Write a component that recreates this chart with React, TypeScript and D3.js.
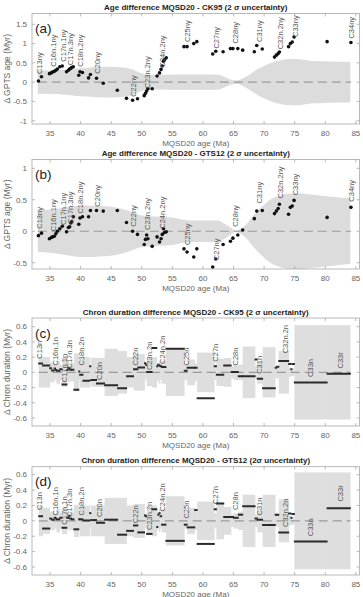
import * as d3 from 'd3'

const W = 363, H = 597

// MQSD20 ages of dated reversals (Ma) and age differences (Myr)
const reversalAge = [33.1, 33.6, 34.9, 35.2, 35.4, 35.7, 35.95, 36.2, 36.6, 37.0, 37.7, 38.0, 38.2, 38.4, 38.55, 38.8, 39.7, 39.9, 40.3, 41.3, 41.6, 42.6, 43.7, 46.0, 47.5, 48.5, 49.3, 50.4, 50.6, 50.8, 51.0, 51.7, 52.5, 52.9, 53.15, 53.35, 53.55, 53.7, 54.0, 56.9, 57.4, 58.5, 59.0, 61.6, 62.1, 63.3, 64.5, 64.9, 65.7, 66.5, 68.4, 68.8, 69.7, 71.7, 72.0, 72.3, 72.5, 74.0, 74.3, 74.6, 74.9, 80.3, 84.2]
const diffCK95 = [0.03, 0.14, 0.22, 0.24, 0.26, 0.28, 0.31, 0.34, 0.40, 0.42, 0.27, 0.31, 0.34, 0.36, 0.38, 0.40, 0.18, 0.27, 0.25, 0.11, 0.20, 0.10, -0.03, -0.21, -0.42, -0.47, -0.43, -0.35, -0.29, -0.23, -0.17, -0.17, 0.16, 0.24, 0.33, 0.42, 0.54, 0.58, 0.63, 0.92, 0.92, 1.00, 1.05, 0.73, 0.80, 0.79, 0.87, 0.87, 0.87, 0.83, 0.79, 0.95, 0.86, 0.65, 0.70, 0.74, 0.78, 0.92, 1.00, 1.04, 1.17, 1.05, 1.03]
const diffGTS12 = [-0.07, -0.03, -0.12, -0.10, -0.09, -0.08, -0.04, 0.00, 0.04, 0.08, -0.01, 0.06, 0.07, 0.13, 0.15, 0.23, 0.11, 0.21, 0.23, 0.23, 0.33, 0.33, 0.32, 0.33, 0.14, 0.00, -0.05, -0.21, -0.13, -0.06, -0.12, -0.24, -0.09, -0.17, -0.12, -0.05, 0.04, -0.02, -0.01, -0.28, -0.33, -0.41, -0.28, -0.57, -0.44, -0.21, -0.16, -0.11, -0.06, 0.02, 0.20, 0.32, 0.33, 0.28, 0.32, 0.36, 0.43, 0.27, 0.38, 0.40, 0.49, 0.22, 0.38]

// 2 sigma envelope (half width, Myr)
const envAge = [33.0, 35, 37, 39, 41, 43, 45, 47, 48.5, 50, 51.5, 53, 55, 57, 59, 61, 62.5, 63.5, 64.5, 65.3, 66, 67, 68, 69, 70, 71, 72, 73, 74.5, 76, 78, 80, 82, 84.1]
const envCK95 = [0.31, 0.3, 0.32, 0.35, 0.37, 0.39, 0.4, 0.38, 0.33, 0.23, 0.19, 0.19, 0.2, 0.2, 0.2, 0.2, 0.19, 0.14, 0.07, 0.04, 0.06, 0.14, 0.24, 0.34, 0.42, 0.49, 0.54, 0.58, 0.6, 0.59, 0.55, 0.54, 0.53, 0.53]
const envGTS12 = [0.33, 0.34, 0.37, 0.4, 0.41, 0.4, 0.39, 0.35, 0.3, 0.25, 0.24, 0.23, 0.22, 0.18, 0.17, 0.17, 0.17, 0.12, 0.06, 0.01, 0.03, 0.1, 0.22, 0.33, 0.42, 0.5, 0.55, 0.58, 0.6, 0.6, 0.58, 0.56, 0.54, 0.52]

// reversal labels (age, value where the label starts)
const revLabel = ['C13ny', 'C16n.1ny', 'C17n.1ny', 'C17n.3ny', 'C18n.2ny', 'C20ny', 'C22ny', 'C23n.2ny', 'C24n.2ny', 'C25ny', 'C27ny', 'C28ny', 'C31ny', 'C32n.2ny', 'C33ny', 'C34ny']
const revLabelAge = [33.3, 35.6, 37.2, 38.4, 39.9, 42.8, 48.6, 50.9, 53.4, 57.4, 62.2, 65.3, 69.2, 72.6, 75.1, 84.2]
const revLabelCK95 = [0.21, 0.4, 0.53, 0.44, 0.4, 0.22, -0.38, -0.16, 0.38, 1.04, 0.87, 1.0, 1.04, 0.85, 1.17, 1.13]
const revLabelGTS12 = [0.04, 0.0, 0.1, 0.12, 0.28, 0.39, 0.07, 0.02, 0.04, -0.22, -0.46, 0.07, 0.44, 0.52, 0.57, 0.47]

// chron boundaries (Ma), duration differences and 2 sigma uncertainty (Myr)
const chronBound = [33.15, 33.78, 34.95, 35.25, 35.68, 35.9, 36.05, 36.6, 36.95, 37.75, 37.9, 38.1, 38.2, 38.5, 38.9, 39.7, 39.85, 40.38, 41.5, 41.65, 42.6, 43.92, 46.05, 47.52, 48.65, 49.35, 50.45, 50.65, 50.8, 51.68, 52.45, 52.62, 52.8, 53.0, 53.25, 53.95, 56.95, 57.42, 58.65, 59.05, 61.85, 62.2, 63.4, 64.6, 65.0, 65.78, 66.5, 68.52, 68.88, 69.75, 71.82, 72.05, 72.4, 74.02, 74.38, 74.55, 74.95, 80.3, 84.1]
const durDiffCK95 = [0.115, 0.09, 0.055, 0.025, 0.05, 0.03, 0.02, 0.04, -0.16, 0.03, 0.06, 0.05, 0.035, 0.035, -0.23, 0.01, -0.03, -0.11, 0.08, -0.1, -0.145, -0.17, -0.21, -0.05, 0.04, 0.065, 0.12, 0.1, 0.005, 0.32, 0.08, 0.1, 0.09, 0.08, 0.07, 0.31, 0.02, 0.06, 0.06, -0.34, 0.08, -0.03, 0.09, 0.005, 0.005, -0.05, -0.05, 0.17, -0.085, -0.21, 0.06, 0.075, 0.15, 0.11, 0.04, 0.11, -0.135, -0.02]
const durUncCK95 = [0.2, 0.2, 0.13, 0.13, 0.1, 0.1, 0.15, 0.1, 0.19, 0.08, 0.13, 0.1, 0.12, 0.12, 0.25, 0.1, 0.2, 0.2, 0.08, 0.19, 0.19, 0.31, 0.28, 0.2, 0.24, 0.24, 0.1, 0.08, 0.18, 0.2, 0.12, 0.1, 0.15, 0.1, 0.15, 0.31, 0.1, 0.17, 0.12, 0.26, 0.1, 0.18, 0.19, 0.08, 0.1, 0.1, 0.34, 0.08, 0.15, 0.33, 0.08, 0.08, 0.28, 0.06, 0.05, 0.05, 0.62, 0.62]
const durDiffGTS12 = [0.06, -0.1, 0.03, 0.015, 0.04, 0.03, 0.02, 0.04, -0.09, 0.04, 0.04, 0.065, 0.03, 0.02, -0.11, 0.02, 0.02, 0.005, 0.1, 0.01, -0.025, 0.015, -0.18, -0.13, -0.06, -0.15, 0.07, 0.06, -0.17, 0.15, -0.08, 0.08, 0.1, 0.06, -0.05, -0.26, -0.05, -0.085, 0.14, -0.3, 0.15, 0.225, 0.05, 0.05, 0.04, 0.08, 0.19, 0.03, 0.015, -0.055, 0.08, 0.08, -0.15, 0.095, 0.04, 0.09, -0.27, 0.165]
const durUncGTS12 = [0.2, 0.17, 0.12, 0.12, 0.1, 0.1, 0.15, 0.1, 0.17, 0.08, 0.13, 0.1, 0.12, 0.12, 0.21, 0.1, 0.2, 0.2, 0.08, 0.2, 0.2, 0.3, 0.3, 0.2, 0.22, 0.22, 0.1, 0.08, 0.17, 0.2, 0.12, 0.1, 0.15, 0.1, 0.15, 0.32, 0.1, 0.17, 0.12, 0.25, 0.1, 0.24, 0.18, 0.08, 0.1, 0.12, 0.34, 0.08, 0.15, 0.34, 0.08, 0.08, 0.28, 0.06, 0.05, 0.05, 0.63, 0.63]

// chron labels (age, value where the label starts)
const chronLabel = ['C13n', 'C16n.1n', 'C17n.1n', 'C17n.3n', 'C18n.2n', 'C20n', 'C22n', 'C23n.2n', 'C24n.2n', 'C25n', 'C27n', 'C28n', 'C31n', 'C32n.2n', 'C33n', 'C33r']
const chronLabelAge = [33.3, 35.8, 37.3, 38.2, 40.1, 43.1, 49.0, 51.2, 53.35, 57.25, 62.05, 65.3, 69.3, 73.4, 77.6, 82.4]
const chronLabelCK95 = [0.18, 0.09, -0.13, 0.05, 0.09, -0.1, 0.09, 0.03, 0.11, 0.09, 0.14, 0.09, -0.02, 0.25, -0.06, 0.05]
const chronLabelGTS12 = [0.14, 0.07, -0.05, 0.05, 0.07, 0.05, -0.03, -0.12, 0.12, 0.03, 0.22, 0.14, 0.07, -0.08, -0.2, 0.25]

const xTicks = [35, 40, 45, 50, 55, 60, 65, 70, 75, 80, 85]

const x = d3.scaleLinear().domain([32.05, 85.6]).range([32, 359.5])
const axisColor = '#a8a8a8'
const textColor = '#666'
const font = "'Liberation Sans', Arial, Helvetica, sans-serif"

type PanelProps = {
  id: string
  tag: string
  title: string
  yLabel: string
  top: number
  bottom: number
  domain: [number, number]
  yTicks: number[]
  children: (y: d3.ScaleLinear<number, number>) => any
}

function Panel({ id, tag, title, yLabel, top, bottom, domain, yTicks, children }: PanelProps) {
  const y = d3.scaleLinear().domain(domain).range([bottom, top])
  const [x0, x1] = x.range()
  const tk = 3
  return (
    <g>
      <defs>
        <clipPath id={'clip-' + id}>
          <rect x={x0} y={top} width={x1 - x0} height={bottom - top} />
        </clipPath>
      </defs>
      <g clipPath={`url(#clip-${id})`}>{children(y)}</g>
      <rect x={x0} y={top} width={x1 - x0} height={bottom - top} fill="none" stroke={axisColor} strokeWidth={0.8} />
      {xTicks.map(t => (
        <g key={'x' + t}>
          <line x1={x(t)} x2={x(t)} y1={bottom} y2={bottom - tk} stroke={axisColor} strokeWidth={0.8} />
          <line x1={x(t)} x2={x(t)} y1={top} y2={top + tk} stroke={axisColor} strokeWidth={0.8} />
          <text x={x(t)} y={bottom + 6.5} dy="0.71em" textAnchor="middle" fontSize={8} fill={textColor}>{t}</text>
        </g>
      ))}
      {yTicks.map(t => (
        <g key={'y' + t}>
          <line x1={x0} x2={x0 + tk} y1={y(t)} y2={y(t)} stroke={axisColor} strokeWidth={0.8} />
          <line x1={x1} x2={x1 - tk} y1={y(t)} y2={y(t)} stroke={axisColor} strokeWidth={0.8} />
          <text x={x0 - 5} y={y(t)} dy="0.35em" textAnchor="end" fontSize={8} fill={textColor}>{String(t)}</text>
        </g>
      ))}
      <text x={(x0 + x1) / 2} y={top - 3.5} textAnchor="middle" fontSize={8} fontWeight="bold" fill="#222">{title}</text>
      <text x={(x0 + x1) / 2} y={bottom + 21.5} textAnchor="middle" fontSize={8} fill={textColor}>MQSD20 age (Ma)</text>
      <text transform={`translate(7,${(top + bottom) / 2}) rotate(-90)`} dy="0.35em" textAnchor="middle" fontSize={8.5} fill={textColor}>{yLabel}</text>
      <text x={x0 + 3} y={top + 19.5} fontSize={13.5} fill="#222">{tag}</text>
    </g>
  )
}

function Rotated({ px, py, text }: { px: number; py: number; text: string }) {
  return (
    <text transform={`translate(${px},${py}) rotate(-90)`} dy="0.35em" fontSize={7.5} fill="#555">{text}</text>
  )
}

function agePanel(diff: number[], env: number[], labelAt: number[]) {
  return (y: d3.ScaleLinear<number, number>) => {
    const area = d3.area<number>()
      .x((_, i) => x(envAge[i]))
      .y0(d => y(-d))
      .y1(d => y(d))
      .curve(d3.curveMonotoneX)
    return (
      <g>
        <path d={area(env) || ''} fill="#dcdcdc" />
        <line x1={x(33.0)} x2={x(84.2)} y1={y(0)} y2={y(0)} stroke="#9a9a9a" strokeWidth={1.1} strokeDasharray="9,5" />
        {reversalAge.map((a, i) => (
          <circle key={i} cx={x(a)} cy={y(diff[i])} r={1.8} fill="#111" />
        ))}
        {revLabel.map((t, i) => (
          <Rotated key={t} px={x(revLabelAge[i])} py={y(labelAt[i])} text={t} />
        ))}
      </g>
    )
  }
}

function durationPanel(diff: number[], unc: number[], labelAt: number[]) {
  return (y: d3.ScaleLinear<number, number>) => {
    const segs = diff.map((d, i) => ({ a0: chronBound[i], a1: chronBound[i + 1], d, u: unc[i] }))
    return (
      <g>
        {segs.map((s, i) => (
          <rect key={'b' + i} x={x(s.a0)} width={x(s.a1) - x(s.a0) + 0.3} y={y(s.u)} height={y(-s.u) - y(s.u)} fill="#dedede" />
        ))}
        <line x1={x(chronBound[0])} x2={x(chronBound[chronBound.length - 1])} y1={y(0)} y2={y(0)} stroke="#9a9a9a" strokeWidth={1.1} strokeDasharray="9,5" />
        {segs.map((s, i) => (
          <line key={'s' + i} x1={x(s.a0) + 0.5} x2={x(s.a1) - 0.5} y1={y(s.d)} y2={y(s.d)} stroke="#2a2a2a" strokeWidth={2} strokeLinecap="square" />
        ))}
        {chronLabel.map((t, i) => (
          <Rotated key={t} px={x(chronLabelAge[i])} py={y(labelAt[i])} text={t} />
        ))}
      </g>
    )
  }
}

export default function App() {
  return (
    <svg width={W} height={H} style={{ position: 'absolute', left: 0, top: 0, background: '#fff' }} fontFamily={font}>
      <Panel id="a" tag="(a)" title="Age difference MQSD20 - CK95 (2 σ uncertainty)" yLabel="Δ GPTS age (Myr)"
        top={13.5} bottom={124} domain={[-1.085, 1.78]} yTicks={[-1, -0.5, 0, 0.5, 1, 1.5]}>
        {agePanel(diffCK95, envCK95, revLabelCK95)}
      </Panel>
      <Panel id="b" tag="(b)" title="Age difference MQSD20 - GTS12 (2 σ uncertainty)" yLabel="Δ GPTS age (Myr)"
        top={159.5} bottom={269} domain={[-0.6, 1.14]} yTicks={[-0.5, 0, 0.5, 1]}>
        {agePanel(diffGTS12, envGTS12, revLabelGTS12)}
      </Panel>
      <Panel id="c" tag="(c)" title="Chron duration difference MQSD20 - CK95 (2 σ uncertainty)" yLabel="Δ Chron duration (Myr)"
        top={318} bottom={426} domain={[-0.705, 0.714]} yTicks={[-0.6, -0.4, -0.2, 0, 0.2, 0.4, 0.6]}>
        {durationPanel(durDiffCK95, durUncCK95, chronLabelCK95)}
      </Panel>
      <Panel id="d" tag="(d)" title="Chron duration difference MQSD20 - GTS12 (2σ uncertainty)" yLabel="Δ Chron duration (Myr)"
        top={466.7} bottom={575} domain={[-0.704, 0.704]} yTicks={[-0.6, -0.4, -0.2, 0, 0.2, 0.4, 0.6]}>
        {durationPanel(durDiffGTS12, durUncGTS12, chronLabelGTS12)}
      </Panel>
    </svg>
  )
}
